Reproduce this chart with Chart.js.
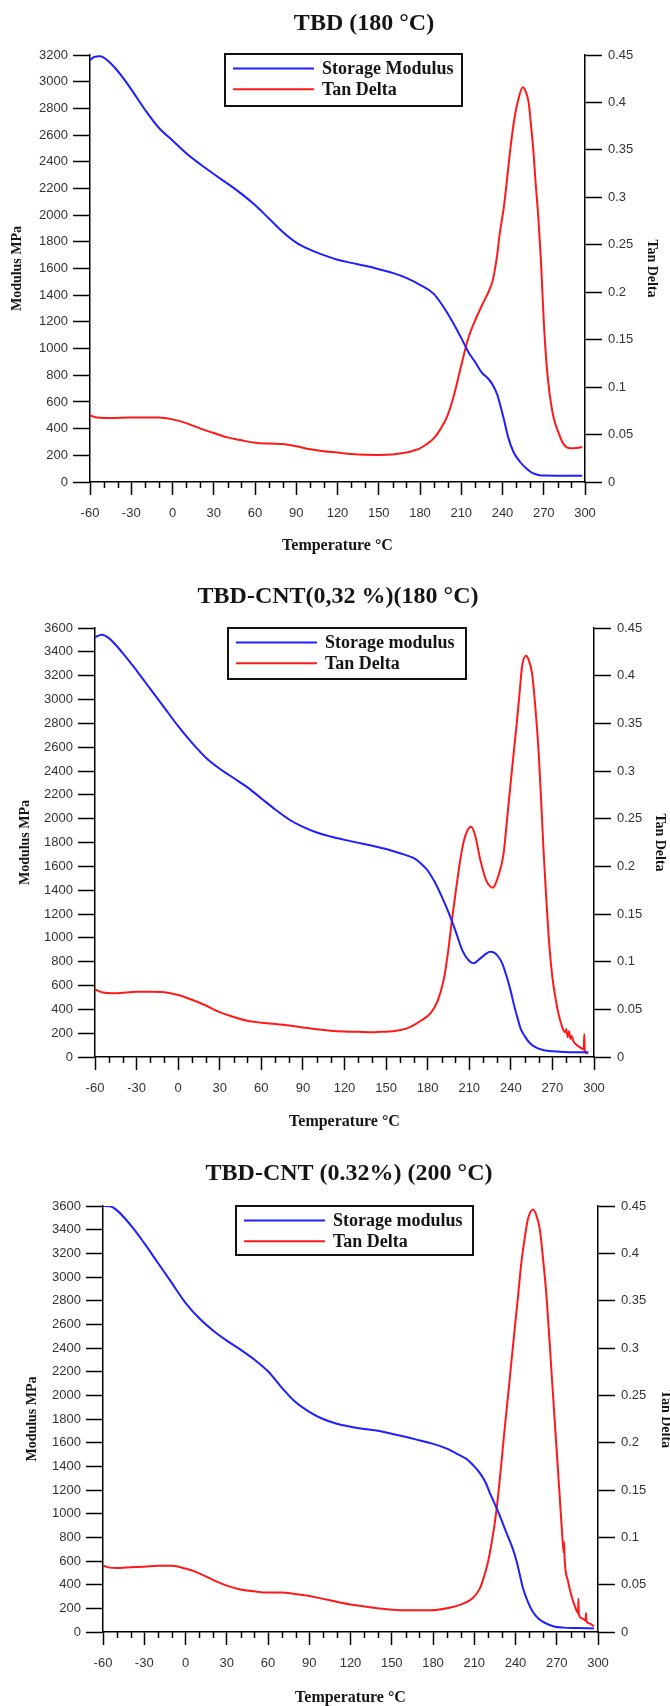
<!DOCTYPE html>
<html>
<head>
<meta charset="utf-8">
<title>DMA - TBD / TBD-CNT</title>
<script src="https://cdn.jsdelivr.net/npm/chart.js@4.4.1/dist/chart.umd.min.js"></script>
<style>
  html, body { margin: 0; padding: 0; background: #fff; }
  canvas { display: block; }
</style>
</head>
<body>
<canvas id="chart1" width="670" height="560"></canvas>
<canvas id="chart2" width="670" height="580"></canvas>
<canvas id="chart3" width="670" height="566"></canvas>
<script>
// ================= DATA =================

const chartTitles = ['TBD (180 °C)', 'TBD-CNT(0,32 %)(180 °C)', 'TBD-CNT (0.32%) (200 °C)'];
const modulusLabels = ['Storage Modulus', 'Storage modulus', 'Storage modulus'];
const tanLabel = 'Tan Delta';
const modulusMax = [3200, 3600, 3600];
const tanMax = 0.45;
const tempRange = [-60, 300];

// TBD (180 °C)
const tbdModTemp = [-60, -57, -53, -50, -45, -40, -35, -30, -20, -10, 0, 10, 20, 30, 40, 50, 60, 70, 80, 90, 100,
  110, 120, 130, 140, 150, 160, 170, 180, 190, 200, 210, 215, 220, 225, 230, 233, 236, 238, 241, 244,
  248, 253, 258, 262, 266, 270, 280, 298];
const tbdModulus = [3160, 3185, 3190, 3180, 3138, 3082, 3015, 2942, 2790, 2655, 2560, 2464, 2383, 2308, 2236, 2161, 2075, 1976, 1875, 1794, 1741,
  1700, 1666, 1642, 1620, 1595, 1567, 1530, 1478, 1410, 1265, 1080, 977, 900, 820, 770, 725, 660, 590, 470, 340,
  225, 148, 95, 66, 53, 48, 47, 47];
const tbdTanTemp = [-60, -55, -45, -30, -20, -10, 0, 10, 20, 30, 40, 50, 60, 70, 80, 90, 100, 110, 120, 130,
  140, 150, 160, 170, 175, 180, 185, 190, 195, 200, 205, 210, 215, 220, 225, 230, 233, 236, 238, 241,
  243, 245, 247, 249, 251.5, 254.7, 257, 259, 261, 262.4, 264, 266, 268, 270, 272, 274, 277, 281, 284, 288,
  292, 295, 298];
const tbdTanDelta = [0.070, 0.068, 0.0675, 0.068, 0.068, 0.068, 0.066, 0.062, 0.0565, 0.0516, 0.047, 0.044, 0.0414, 0.0405, 0.040, 0.0377, 0.0346, 0.0324, 0.031, 0.0294,
  0.0286, 0.0285, 0.029, 0.031, 0.033, 0.0355, 0.040, 0.046, 0.056, 0.070, 0.093, 0.123, 0.151, 0.170, 0.186, 0.201, 0.213, 0.238, 0.262, 0.29,
  0.315, 0.342, 0.366, 0.386, 0.403, 0.416, 0.411, 0.40, 0.372, 0.350, 0.317, 0.28, 0.232, 0.17, 0.125, 0.096, 0.069, 0.051, 0.041, 0.0358,
  0.0355, 0.036, 0.037];

// TBD-CNT (0,32 %) (180 °C)
const cnt180ModTemp = [-60, -55, -50, -40, -30, -20, -10, 0, 10, 20, 30, 40, 50, 60, 70, 80, 90, 100, 110, 120,
  130, 140, 150, 160, 170, 175, 180, 185, 190, 195, 200, 205, 210, 213, 218, 222, 225, 228, 231, 234,
  237, 240, 242, 245, 247, 250, 254, 258, 264, 270, 278, 296];
const cnt180Modulus = [3522, 3544, 3515, 3390, 3243, 3087, 2932, 2776, 2636, 2512, 2419, 2341, 2263, 2170, 2077, 1993, 1931, 1884, 1850, 1822,
  1797, 1772, 1745, 1710, 1668, 1625, 1565, 1470, 1350, 1215, 1060, 895, 805, 787, 828, 865, 883, 876, 841, 780,
  675, 550, 450, 320, 240, 175, 113, 80, 57, 48, 43, 40];
const cnt180TanTemp = [-60, -55, -45, -30, -20, -10, 0, 10, 20, 30, 40, 50, 60, 70, 80, 90, 100, 110, 120, 130,
  140, 146, 155, 165, 170, 175, 182, 187, 191.5, 194.5, 197.5, 200.5, 203.5, 206, 208.8, 211.3, 214, 218, 222, 227,
  231, 234.8, 237, 239.6, 242, 244.5, 246.5, 248.1, 251, 253, 255.3, 257.5, 260.1, 262, 263.7, 265.5, 267.3, 269, 270.9, 274,
  277, 279, 280, 281, 282, 283, 284, 285, 287.8, 290, 292.6, 293, 293.4, 295.5];
const cnt180TanDelta = [0.071, 0.068, 0.067, 0.0685, 0.0685, 0.068, 0.065, 0.060, 0.054, 0.047, 0.042, 0.038, 0.036, 0.0346, 0.033, 0.031, 0.029, 0.0276, 0.0268, 0.0264,
  0.026, 0.0264, 0.027, 0.030, 0.0334, 0.038, 0.0457, 0.058, 0.0806, 0.108, 0.1436, 0.176, 0.2066, 0.226, 0.238, 0.2416, 0.234, 0.2066, 0.186, 0.1776,
  0.19, 0.2137, 0.245, 0.2836, 0.318, 0.3536, 0.385, 0.4096, 0.4208, 0.416, 0.4026, 0.37, 0.3187, 0.265, 0.2137, 0.168, 0.126, 0.097, 0.0736, 0.048,
  0.0316, 0.026, 0.029, 0.021, 0.027, 0.019, 0.022, 0.017, 0.0124, 0.010, 0.008, 0.024, 0.006, 0.0037];

// TBD-CNT (0.32%) (200 °C)
const cnt200ModTemp = [-60, -55, -50, -40, -30, -20, -10, 0, 10, 20, 30, 40, 50, 60, 70, 80, 90, 100, 110, 120,
  130, 140, 150, 160, 170, 180, 190, 200, 204, 210, 214, 218, 221, 225, 228.5, 233, 238, 241, 243, 245.5,
  249, 252.7, 257, 262.5, 268, 274.5, 285, 297];
const cnt200Modulus = [3600, 3598, 3565, 3440, 3286, 3118, 2950, 2782, 2651, 2548, 2462, 2386, 2303, 2203, 2065, 1943, 1861, 1800, 1760, 1735,
  1715, 1700, 1675, 1650, 1620, 1590, 1550, 1490, 1465, 1400, 1345, 1270, 1185, 1080, 986, 850, 705, 590, 490, 367,
  255, 169, 110, 71, 47, 37, 33, 30];
const cnt200TanTemp = [-60, -55, -50, -40, -30, -20, -10, 0, 10, 20, 30, 40, 50, 60, 70, 80, 90, 100, 110, 120,
  130, 141, 150, 160, 170, 178, 190, 202, 209, 214, 217, 220, 222.5, 225, 227.5, 229.8, 232, 234.6, 237, 239.4,
  242, 244.3, 247, 249.1, 252.7, 255, 257.6, 260, 262.5, 265, 267.3, 269.8, 272.1, 274, 275.2, 275.4, 275.7, 278, 280.6, 283,
  285.5, 285.8, 286.1, 289, 291, 291.3, 291.6, 294, 297];
const cnt200TanDelta = [0.070, 0.068, 0.0675, 0.0685, 0.069, 0.070, 0.070, 0.067, 0.062, 0.055, 0.049, 0.045, 0.043, 0.0416, 0.0416, 0.040, 0.038, 0.035, 0.032, 0.029,
  0.027, 0.0247, 0.0236, 0.0229, 0.0229, 0.0229, 0.025, 0.030, 0.036, 0.0458, 0.058, 0.074, 0.093, 0.116, 0.146, 0.1795, 0.213, 0.25, 0.285, 0.32,
  0.357, 0.3907, 0.419, 0.4366, 0.4464, 0.441, 0.426, 0.395, 0.3556, 0.302, 0.25, 0.195, 0.1444, 0.102, 0.083, 0.095, 0.078, 0.055, 0.0388, 0.028,
  0.020, 0.035, 0.018, 0.0141, 0.012, 0.02, 0.011, 0.009, 0.006];

// ================= LAYOUT =================

const SERIF = '"Liberation Serif", "Times New Roman", serif';
const SANS = '"Liberation Sans", Arial, sans-serif';
const BLUE = 'rgb(30,30,255)';
const RED = 'rgb(255,25,25)';

const pts = (xs, ys) => xs.map((x, i) => ({ x: x, y: ys[i] }));

// title, minor x ticks and boxed legend
const panelPlugin = {
    id: 'panel',
    afterDraw(chart, args, opts) {
        const ctx = chart.ctx;
        const area = chart.chartArea;
        ctx.save();

        ctx.font = 'bold 24px ' + SERIF;
        ctx.fillStyle = '#151515';
        ctx.textAlign = 'center';
        ctx.textBaseline = 'middle';
        ctx.fillText(opts.title, opts.titleX, opts.titleY);

        const xs = chart.scales.x;
        ctx.strokeStyle = '#000';
        ctx.lineWidth = 1.5;
        for (let v = xs.min; v <= xs.max; v += 10) {
            if (v % 30 === 0) continue;
            const px = Math.round(xs.getPixelForValue(v)) + 0.5;
            ctx.beginPath();
            ctx.moveTo(px, area.bottom);
            ctx.lineTo(px, area.bottom + 6);
            ctx.stroke();
        }

        const lx = Math.round(area.left + opts.legendDx);
        const ly = Math.round(area.top + opts.legendDy);
        ctx.fillStyle = '#fff';
        ctx.fillRect(lx, ly, opts.legendW, opts.legendH);
        ctx.strokeStyle = '#111';
        ctx.lineWidth = 2;
        ctx.strokeRect(lx, ly, opts.legendW, opts.legendH);

        ctx.font = 'bold 18px ' + SERIF;
        ctx.textAlign = 'left';
        chart.data.datasets.forEach((ds, i) => {
            const y = ly + 14.5 + i * 20.7;
            ctx.strokeStyle = ds.borderColor;
            ctx.lineWidth = 2;
            ctx.beginPath();
            ctx.moveTo(lx + 8, y);
            ctx.lineTo(lx + 89, y);
            ctx.stroke();
            ctx.fillStyle = '#151515';
            ctx.fillText(ds.label, lx + 97, y + 1);
        });
        ctx.restore();
    }
};

function buildChart(id, spec) {
    const canvas = document.getElementById(id);
    const W = canvas.width, H = canvas.height;
    const [L, T, R, B] = spec.area;
    const axisBorder = { display: true, color: '#000', width: 1.5 };
    const tickFont = { family: SANS, size: 13 };
    const axisTitleFont = { family: SERIF, size: 14, weight: 'bold', lineHeight: 1.2 };

    return new Chart(canvas, {
        type: 'line',
        data: {
            datasets: [{
                label: spec.modLabel,
                data: pts(spec.modT, spec.mod),
                yAxisID: 'y',
                borderColor: BLUE,
                borderWidth: 2,
                pointRadius: 0,
                cubicInterpolationMode: 'monotone'
            }, {
                label: tanLabel,
                data: pts(spec.tanT, spec.tan),
                yAxisID: 'y1',
                borderColor: RED,
                borderWidth: 2,
                pointRadius: 0,
                cubicInterpolationMode: 'monotone'
            }]
        },
        options: {
            responsive: false,
            animation: false,
            events: [],
            layout: { padding: { top: T, left: 0, right: 0, bottom: 0 } },
            plugins: {
                legend: { display: false },
                tooltip: { enabled: false },
                panel: {
                    title: spec.title, titleX: spec.titleX, titleY: spec.titleY,
                    legendDx: spec.legend[0], legendDy: spec.legend[1], legendW: spec.legend[2], legendH: spec.legend[3]
                }
            },
            scales: {
                x: {
                    type: 'linear',
                    min: tempRange[0],
                    max: tempRange[1],
                    afterFit: s => { s.height = H - B; },
                    border: axisBorder,
                    grid: { drawOnChartArea: false, tickLength: 13, tickColor: '#000', tickWidth: 1.5 },
                    ticks: { stepSize: 30, autoSkip: false, maxRotation: 0, padding: 11, color: '#333', font: tickFont,
                             callback: v => String(v) },
                    title: { display: true, text: 'Temperature °C', color: '#151515',
                             font: { family: SERIF, size: 16, weight: 'bold', lineHeight: 1.2 },
                             padding: { top: 0, bottom: spec.xTitlePad } }
                },
                y: {
                    position: 'left',
                    min: 0,
                    max: spec.modMax,
                    afterFit: s => { s.width = L; },
                    border: axisBorder,
                    grid: { drawOnChartArea: false, tickLength: 17, tickColor: '#000', tickWidth: 1.5 },
                    ticks: { stepSize: 200, autoSkip: false, padding: 5, color: '#333', font: tickFont,
                             callback: v => String(v) },
                    title: { display: true, text: 'Modulus MPa', color: '#151515', font: axisTitleFont,
                             padding: { top: spec.yTitlePad, bottom: 0 } }
                },
                y1: {
                    position: 'right',
                    min: 0,
                    max: tanMax,
                    afterFit: s => { s.width = W - R; },
                    border: axisBorder,
                    grid: { drawOnChartArea: false, tickLength: 17, tickColor: '#000', tickWidth: 1.5 },
                    ticks: { stepSize: 0.05, autoSkip: false, padding: 6, color: '#333', font: tickFont,
                             callback: v => String(Math.round(v * 100) / 100) },
                    title: { display: true, text: 'Tan Delta', color: '#151515', font: axisTitleFont,
                             padding: { top: spec.y1TitlePad, bottom: 0 } }
                }
            }
        },
        plugins: [panelPlugin]
    });
}

buildChart('chart1', {
    title: chartTitles[0], titleX: 364, titleY: 24,
    modLabel: modulusLabels[0], modMax: modulusMax[0],
    modT: tbdModTemp, mod: tbdModulus, tanT: tbdTanTemp, tan: tbdTanDelta,
    area: [90, 55, 585, 482],
    xTitlePad: 4.4, yTitlePad: 8.6, y1TitlePad: 10.1,
    legend: [135, -1, 237, 52]
});

buildChart('chart2', {
    title: chartTitles[1], titleX: 338, titleY: 37,
    modLabel: modulusLabels[1], modMax: modulusMax[1],
    modT: cnt180ModTemp, mod: cnt180Modulus, tanT: cnt180TanTemp, tan: cnt180TanDelta,
    area: [95, 68, 594, 497],
    xTitlePad: 8.8, yTitlePad: 16.6, y1TitlePad: 1.6,
    legend: [133, 0, 238, 51]
});

buildChart('chart3', {
    title: chartTitles[2], titleX: 349, titleY: 34,
    modLabel: modulusLabels[2], modMax: modulusMax[2],
    modT: cnt200ModTemp, mod: cnt200Modulus, tanT: cnt200TanTemp, tan: cnt200TanDelta,
    area: [103, 66, 598, 492],
    xTitlePad: -1.4, yTitlePad: 24.2, y1TitlePad: -4.4,
    legend: [133, 0, 237, 49]
});
</script>
</body>
</html>
